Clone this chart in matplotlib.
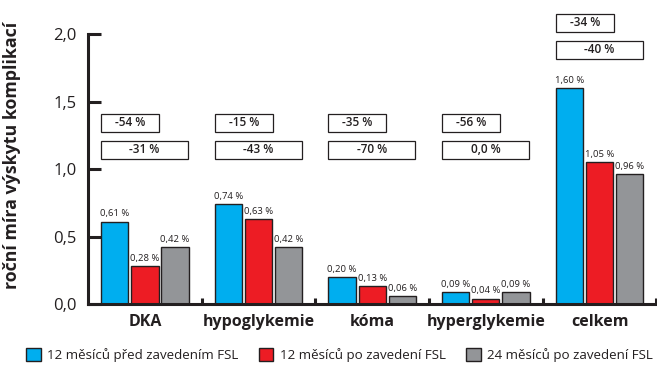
import matplotlib.pyplot as plt
import numpy as np
from matplotlib.patches import Patch, Rectangle

categories = ["DKA", "hypoglykemie", "kóma", "hyperglykemie", "celkem"]
series_names = [
    "12 měsíců před zavedením FSL",
    "12 měsíců po zavedení FSL",
    "24 měsíců po zavedení FSL",
]
before_12 = [0.61, 0.74, 0.20, 0.09, 1.60]
after_12 = [0.28, 0.63, 0.13, 0.04, 1.05]
after_24 = [0.42, 0.42, 0.06, 0.09, 0.96]
change_12 = ["-54 %", "-15 %", "-35 %", "-56 %", "-34 %"]
change_24 = ["-31 %", "-43 %", "-70 %", "0,0 %", "-40 %"]

colors = ["#00aeef", "#ed1c24", "#939598"]
dark = "#231f20"

plt.rcParams["font.family"] = ["Open Sans", "DejaVu Sans"]

fig = plt.figure(figsize=(6.57, 3.65), dpi=100)
ax = fig.add_axes([0.134, 0.167, 0.865, 0.833])

x = np.arange(len(categories))
offsets = [-0.265, 0.0, 0.265]
width = 0.24

for values, off, color in zip([before_12, after_12, after_24], offsets, colors):
    bars = ax.bar(x + off, values, width, color=color, edgecolor=dark, linewidth=1.0, zorder=2)
    for bar, v in zip(bars, values):
        ax.text(bar.get_x() + bar.get_width() / 2, v + 0.025,
                f"{v:.2f} %".replace(".", ","), ha="center", va="bottom",
                fontsize=6.8, color=dark)

# boxes with relative change (upper: 12 m, lower: 24 m)
box_h = 0.135
for i, (top_txt, bot_txt) in enumerate(zip(change_12, change_24)):
    top_y = 2.015 if categories[i] == "celkem" else 1.274
    bot_y = top_y - 0.2
    for y0, x1, txt in [(top_y, 0.125, top_txt), (bot_y, 0.38, bot_txt)]:
        x0 = i - 0.385
        ax.add_patch(Rectangle((x0, y0), x1 + 0.385, box_h, facecolor="white",
                               edgecolor=dark, linewidth=0.9, zorder=3, clip_on=False))
        ax.text(x0 + (x1 + 0.385) / 2, y0 + box_h / 2, txt, ha="center", va="center",
                fontsize=8.5, fontweight="semibold", color=dark, zorder=4)

ax.set_xlim(-0.5, 4.5)
ax.set_ylim(0, 2.252)
for side in ["top", "right"]:
    ax.spines[side].set_visible(False)
ax.spines["left"].set_bounds(0, 2.0)
ax.spines["left"].set_linewidth(2.2)
ax.spines["bottom"].set_linewidth(2.2)
ax.spines["left"].set_color(dark)
ax.spines["bottom"].set_color(dark)

ax.set_yticks([0, 0.5, 1.0, 1.5, 2.0])
ax.set_yticklabels(["0,0", "0,5", "1,0", "1,5", "2,0"])
ax.tick_params(axis="y", direction="in", length=9, width=2.2, color=dark,
               labelsize=12, labelcolor=dark, pad=8)

ax.set_xticks(np.arange(0.5, 5, 1.0))
ax.set_xticklabels([])
ax.tick_params(axis="x", which="major", direction="in", length=4, width=2.2, color=dark)
ax.set_xticks(x, minor=True)
ax.set_xticklabels(categories, minor=True, fontsize=11.5, fontweight="bold", color=dark)
ax.tick_params(axis="x", which="minor", length=0, pad=7)

ax.set_ylabel("roční míra výskytu komplikací", fontsize=12.8, fontweight="bold",
              color=dark)
ax.yaxis.set_label_coords(-0.118, 0.49)

handles = [Patch(facecolor=c, edgecolor=dark, linewidth=1.0) for c in colors]
fig.legend(handles, series_names, loc="lower center", bbox_to_anchor=(0.517, -0.025),
           ncol=3, frameon=False, fontsize=9.6, handlelength=1.1, handleheight=1.1,
           handletextpad=0.5, columnspacing=1.5, labelcolor=dark)

fig.savefig("out.png", dpi=100)
